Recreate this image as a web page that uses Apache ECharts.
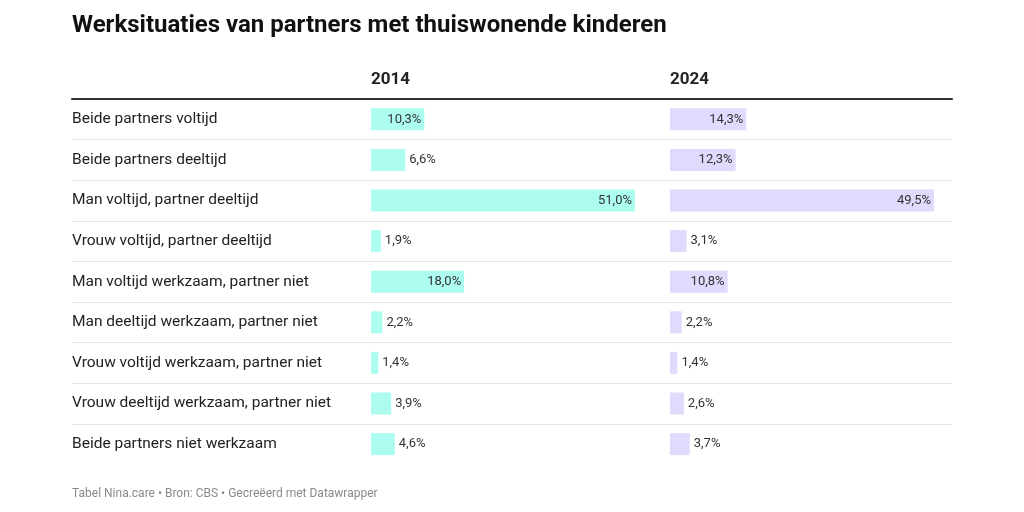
<!DOCTYPE html>
<html>
<head>
<meta charset="utf-8">
<script src="https://cdn.jsdelivr.net/npm/echarts@6/dist/echarts.min.js"></script>
<style>html,body{margin:0;padding:0;background:#fff;}#c{width:1024px;height:512px;}</style>
</head>
<body>
<div id="c"></div>
<script>
var categories = [
  'Beide partners voltijd',
  'Beide partners deeltijd',
  'Man voltijd, partner deeltijd',
  'Vrouw voltijd, partner deeltijd',
  'Man voltijd werkzaam, partner niet',
  'Man deeltijd werkzaam, partner niet',
  'Vrouw voltijd werkzaam, partner niet',
  'Vrouw deeltijd werkzaam, partner niet',
  'Beide partners niet werkzaam'
];
var years = ['2014', '2024'];
var values2014 = [10.3, 6.6, 51.0, 1.9, 18.0, 2.2, 1.4, 3.9, 4.6];
var values2024 = [14.3, 12.3, 49.5, 3.1, 10.8, 2.2, 1.4, 2.6, 3.7];
var titleText = 'Werksituaties van partners met thuiswonende kinderen';
var footerText = 'Tabel Nina.care \u2022 Bron: CBS \u2022 Gecre\u00eberd met Datawrapper';

var FONT = 'Roboto';
var colW = 264;
var gridTop = 99, rowH = 40.6;
var gridH = rowH * categories.length;
var colLeft = [371, 670];
var colors = ['#adfcf0', '#dedbfd'];

function fmt(v){ return v.toFixed(1).replace('.', ',') + '%'; }

function makeData(vals){
  var mx = Math.max.apply(null, vals);
  return vals.map(function(v){
    var inside = v / mx * colW > 45;
    return {
      value: v,
      label: inside ? {position: 'insideRight', distance: 3} : {position: 'right', distance: 4}
    };
  });
}

var chart = echarts.init(document.getElementById('c'), null, {renderer: 'canvas'});
var cols = [values2014, values2024];

var option = {
  animation: false,
  backgroundColor: '#ffffff',
  textStyle: {fontFamily: FONT},
  title: [
    {text: titleText, left: 72, top: 14, padding: 0, textStyle: {fontFamily: FONT, fontSize: 24, fontWeight: 'bold', color: '#111'}},
    {text: years[0], left: colLeft[0], top: 71, padding: 0, textStyle: {fontFamily: FONT, fontSize: 17, fontWeight: 'bold', color: '#222'}},
    {text: years[1], left: colLeft[1], top: 71, padding: 0, textStyle: {fontFamily: FONT, fontSize: 17, fontWeight: 'bold', color: '#222'}},
    {text: footerText, left: 72, top: 488, padding: 0, textStyle: {fontFamily: FONT, fontSize: 12, fontWeight: 'normal', color: '#8a8a8a'}}
  ],
  grid: [
    {left: colLeft[0], top: gridTop, width: colW, height: gridH},
    {left: colLeft[1], top: gridTop, width: colW, height: gridH},
    {left: 72, top: gridTop, width: 952 - 72, height: gridH}
  ],
  xAxis: [
    {gridIndex: 0, type: 'value', min: 0, max: Math.max.apply(null, values2014), show: false},
    {gridIndex: 1, type: 'value', min: 0, max: Math.max.apply(null, values2024), show: false},
    {gridIndex: 2, type: 'value', min: 0, max: 1, position: 'top',
      axisLine: {show: true, lineStyle: {color: '#333', width: 2}},
      axisTick: {show: false}, axisLabel: {show: false}, splitLine: {show: false}}
  ],
  yAxis: [
    {gridIndex: 0, type: 'category', data: categories, inverse: true,
      axisLine: {show: false}, axisTick: {show: false}, splitLine: {show: false},
      axisLabel: {align: 'left', margin: colLeft[0] - 72, padding: [4, 0, 0, 0], fontFamily: FONT, fontSize: 15.5, color: '#222'}},
    {gridIndex: 1, type: 'category', data: categories, inverse: true, show: false},
    {gridIndex: 2, type: 'category', data: categories, inverse: true,
      axisLine: {show: false}, axisTick: {show: false}, axisLabel: {show: false},
      splitLine: {show: true, interval: 0, showMinLine: false, showMaxLine: false, lineStyle: {color: '#e6e6e6', width: 1}}}
  ],
  series: cols.map(function(vals, i){
    return {
      type: 'bar',
      xAxisIndex: i, yAxisIndex: i,
      barWidth: 22,
      itemStyle: {color: colors[i]},
      label: {show: true, fontFamily: FONT, fontSize: 13, color: '#333', padding: [3, 0, 0, 0],
        formatter: function(p){ return fmt(p.value); }},
      data: makeData(vals)
    };
  })
};
chart.setOption(option);
</script>
</body>
</html>
